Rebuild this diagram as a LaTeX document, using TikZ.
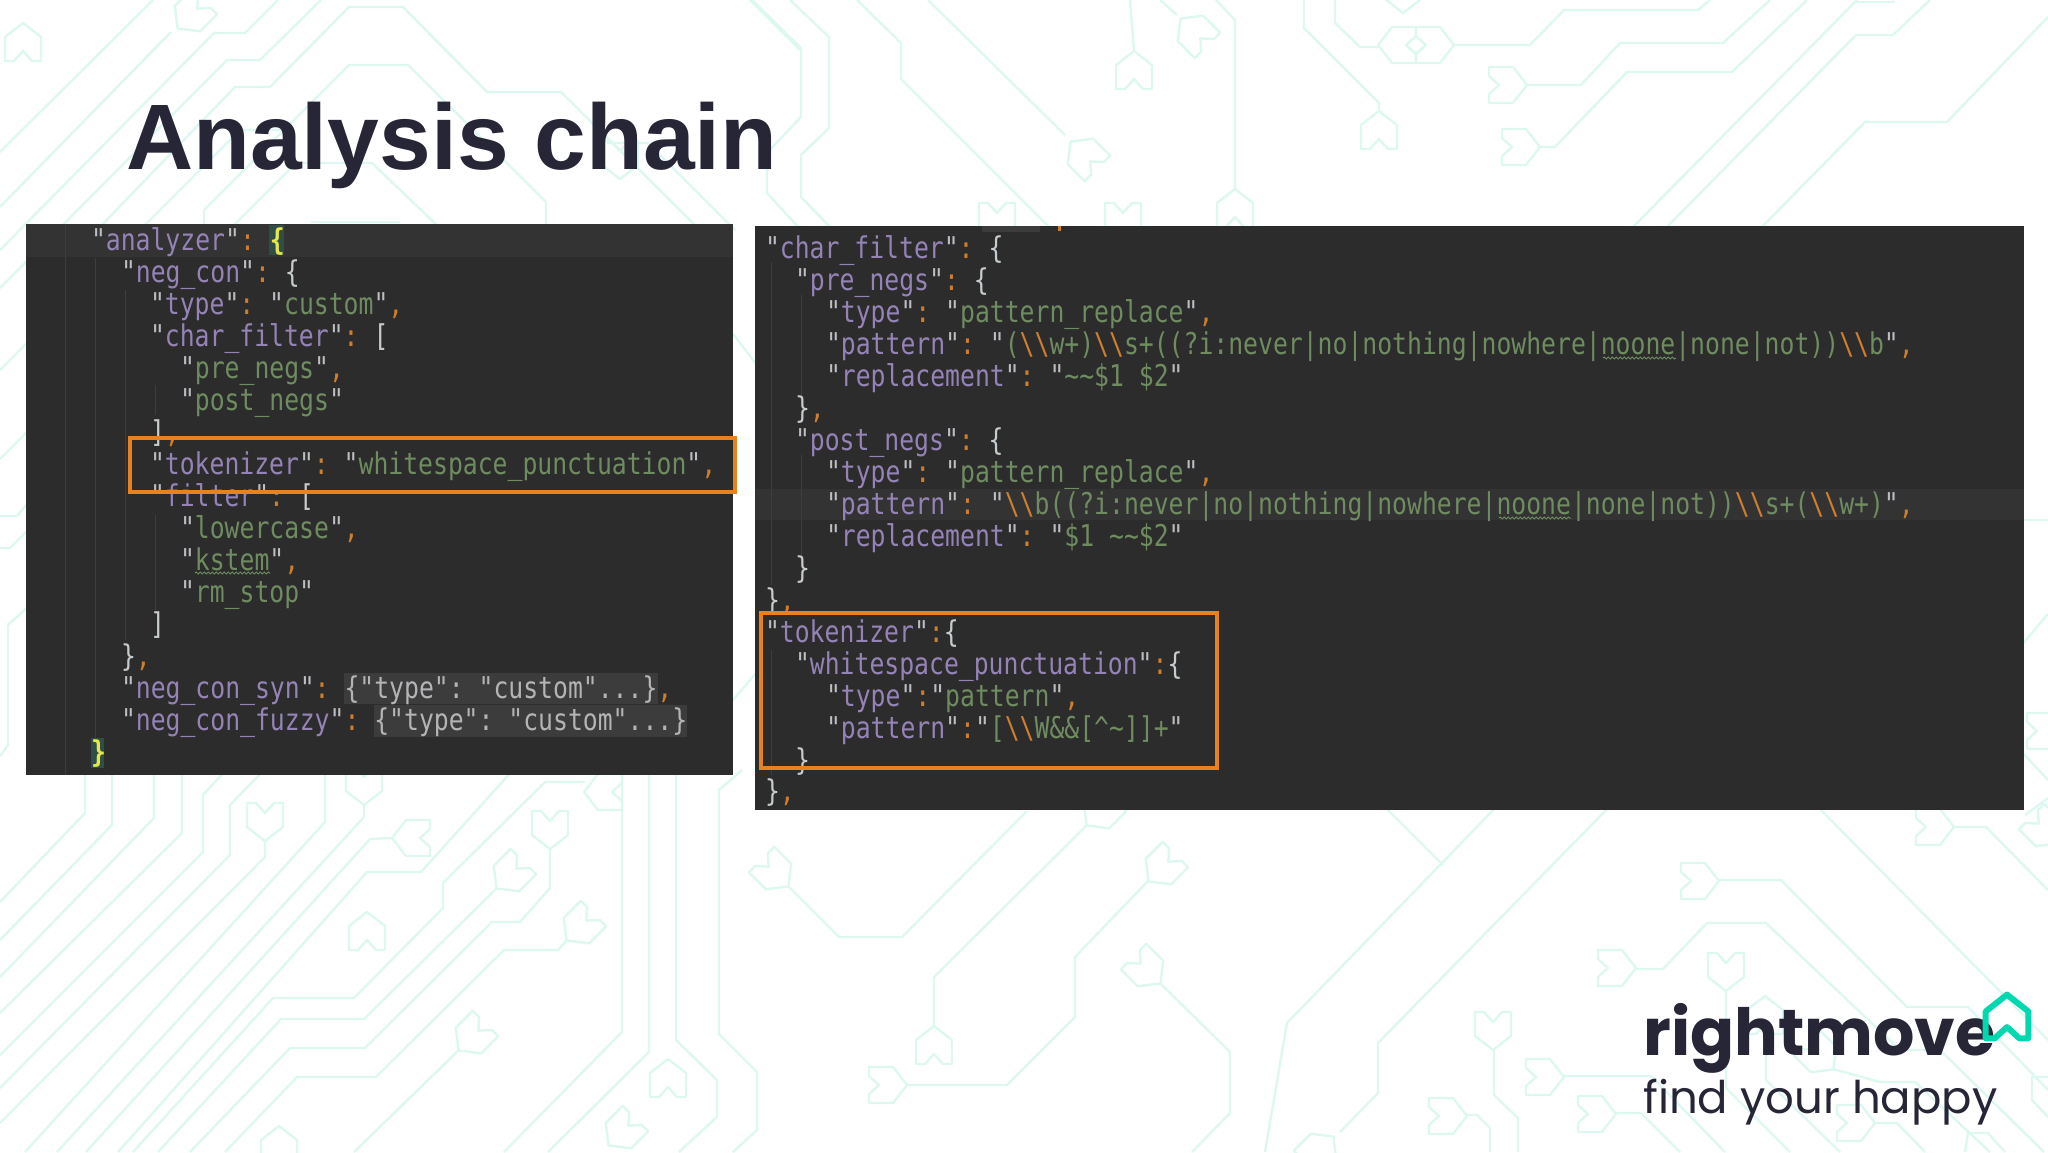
\documentclass[tikz,border=0pt]{standalone}
\usepackage{fontspec}
\usetikzlibrary{decorations.pathmorphing}
\setmainfont{Liberation Sans}
\newfontfamily\codefont[FakeStretch=0.825]{DejaVu Sans Mono}
\newfontfamily\logofont{Poppins}
\definecolor{mint}{HTML}{DDF8F1}
\definecolor{ink}{HTML}{262637}
\definecolor{panel}{HTML}{2C2C2D}
\definecolor{curline}{HTML}{333334}
\definecolor{foldbg}{HTML}{3C3C3D}
\definecolor{guide}{HTML}{3D3D3E}
\definecolor{keyc}{HTML}{9583B6}
\definecolor{strc}{HTML}{6F8B60}
\definecolor{orc}{HTML}{CF7F2C}
\definecolor{quo}{HTML}{BDBDC4}
\definecolor{plain}{HTML}{C6CBCE}
\definecolor{foldc}{HTML}{B4B4B6}
\definecolor{yel}{HTML}{E6E84A}
\definecolor{matchbg}{HTML}{2F4E48}
\definecolor{frame}{HTML}{E8821E}
\definecolor{logog}{HTML}{00D9B0}
\newcommand{\kK}[1]{{\color{quo}"}{\color{keyc}#1}{\color{quo}"}}
\newcommand{\kV}[1]{{\color{quo}"}{\color{strc}#1}{\color{quo}"}}
\newcommand{\kS}[1]{{\color{strc}#1}}
\newcommand{\kQ}{{\color{quo}"}}
\newcommand{\kO}[1]{{\color{orc}#1}}
\newcommand{\kW}[1]{{\color{plain}#1}}
\newcommand{\kF}[1]{{\color{foldc}#1}}
\newcommand{\kY}[1]{{\color{yel}\bfseries #1}}
\newcommand{\kB}{{\color{orc}\textbackslash\textbackslash}}
\newcommand{\kT}{\textasciitilde\textasciitilde}
\newcommand{\hs}[3]{\draw[icn,shift={(#1,#2)},rotate=#3] (0,-19)--(18,-5)--(18,19)--(9,19)--(0,9)--(-9,19)--(-18,19)--(-18,-5)--cycle;}
\tikzset{
  tr/.style={draw=mint,line width=2.4pt,line join=round},
  icn/.style={draw=mint,line width=2.4pt,line join=round},
  code/.style={inner sep=0pt,outer sep=0pt,anchor=base west,font=\codefont\fontsize{30}{32}\selectfont\frenchspacing},
  guideline/.style={draw=guide,line width=1pt},
  squig/.style={draw=strc,line width=1pt,decorate,decoration={snake,amplitude=1pt,segment length=4pt}},
  redbox/.style={draw=frame,line width=4pt}
}
\begin{document}
\begin{tikzpicture}[x=1pt,y=-1pt]
\useasboundingbox (0,0) rectangle (2048,1152);
\fill[white] (0,0) rectangle (2048,1152);
% ---- background traces: top left
\draw[tr] (153,0)--(0,152);
\draw[tr] (171,32)--(0,207);
\draw[tr] (278,0)--(245,33)--(214,33)--(0,250);
\draw[tr] (321,0)--(260,60)--(227,60)--(0,288);
\draw[tr] (97,230)--(235,87)--(270,87)--(349,7)--(403,7)--(487,92)--(561,92)--(700,230);
\draw[tr] (204,230)--(204,210)--(349,65)--(408,65)--(546,202)--(546,230);
\draw[tr] (0,370)--(240,130)--(291,130);
\draw[tr] (0,459)--(296,163)--(372,163)--(442,230);
\draw[tr] (311,222)--(400,222);
\draw[tr] (607,143)--(648,143)--(735,230);
\draw[tr] (750,0)--(800,50);
\hs{23}{42}{0}
\hs{191}{15}{135}
\hs{620}{160}{180}
% ---- left edge
\draw[tr] (0,516)--(17,516)--(30,500);
\draw[tr] (0,548)--(10,548)--(30,528);
\draw[tr] (30,605)--(8,625)--(8,745)--(0,756);
\draw[tr] (733,334)--(757,365);
\draw[tr] (733,700)--(757,672);
% ---- top middle
\draw[tr] (752,0)--(801,48)--(801,117)--(767,153)--(767,193)--(801,230);
\draw[tr] (790,0)--(829,37)--(829,128)--(801,155)--(801,197)--(833,230);
\draw[tr] (857,0)--(901,43)--(901,79)--(1052,230);
\draw[tr] (928,0)--(1065,135);
\hs{1084}{155}{45}
\draw[tr] (1130,0)--(1134,50);
\hs{1134}{70}{0}
\draw[tr] (1160,0)--(1177,15);
\hs{1194}{32}{45}
\draw[tr] (1216,0)--(1235,20)--(1235,188);
\hs{1235}{208}{0}
\hs{997}{222}{180}
\hs{1123}{222}{180}
\draw[tr] (1304,0)--(1304,28)--(1379,103)--(1379,110);
\hs{1379}{130}{0}
\draw[tr] (1335,0)--(1335,23)--(1360,47)--(1379,47);
\hs{1397}{45}{90}
\hs{1403}{-6}{180}
\hs{1435}{45}{-90}
\draw[tr] (1453,45)--(1530,45)--(1564,10)--(1698,10)--(1710,0);
\hs{1508}{85}{-90}
\draw[tr] (1526,85)--(1581,85)--(1620,43)--(1723,43)--(1770,0);
\hs{1521}{147}{-90}
\draw[tr] (1539,147)--(1555,147)--(1627,72)--(1732,72)--(1807,0);
\draw[tr] (1630,230)--(1857,0);
\draw[tr] (1854,2)--(1895,2);
\draw[tr] (1664,230)--(1856,35)--(1893,35)--(1930,0);
\draw[tr] (1759,230)--(1865,122)--(1947,122)--(2048,17);
% ---- right edge
\draw[tr] (2020,520)--(2048,520);
\draw[tr] (2020,647)--(2048,614);
\hs{2046}{731}{-90}
\draw[tr] (2020,750)--(2048,780);
\draw[tr] (2025,815)--(2048,798);
% ---- bottom left bundle
\draw[tr] (85,770)--(85,813)--(0,902);
\draw[tr] (112,770)--(112,825)--(0,940);
\draw[tr] (154,770)--(154,818)--(0,977);
\draw[tr] (182,770)--(182,833)--(0,1013);
\draw[tr] (226,770)--(203,795)--(203,852)--(0,1055);
\draw[tr] (264,770)--(230,805)--(230,855)--(0,1088);
\hs{265}{822}{180}
\draw[tr] (265,841)--(265,857)--(0,1123);
\draw[tr] (325,770)--(325,822)--(25,1152);
\hs{364}{786}{180}
\draw[tr] (364,805)--(364,817)--(57,1152);
\hs{411}{838}{90}
\draw[tr] (393,838)--(370,839)--(86,1152);
\draw[tr] (513,770)--(421,872)--(367,872)--(118,1152);
\hs{603}{792}{90}
\draw[tr] (585,782)--(545,782)--(443,883)--(443,908)--(354,998)--(273,998)--(133,1152);
\hs{510}{875}{135}
\draw[tr] (497,888)--(364,1019)--(281,1019)--(158,1152);
\hs{550}{830}{180}
\draw[tr] (550,849)--(550,888)--(520,922)--(492,922)--(365,1048)--(290,1048)--(190,1152);
\hs{580}{927}{135}
\draw[tr] (567,940)--(558,950)--(504,950)--(376,1077)--(297,1077)--(225,1152);
\hs{367}{931}{0}
\hs{472}{1037}{135}
\draw[tr] (459,1050)--(354,1152);
\hs{279}{1145}{0}
% ---- bottom middle
\draw[tr] (622,770)--(622,1032)--(504,1152);
\draw[tr] (649,770)--(649,1052)--(548,1152);
\draw[tr] (676,770)--(676,1040)--(717,1080)--(717,1117)--(679,1152);
\draw[tr] (742,770)--(719,790)--(719,1034)--(757,1072)--(757,1130)--(733,1152);
\hs{668}{1078}{0}
\hs{622}{1132}{135}
\hs{775}{873}{-135}
\draw[tr] (788,886)--(839,937)--(902,937)--(1027,811);
\hs{1100}{812}{135}
\draw[tr] (1087,825)--(934,977)--(934,1025);
\hs{934}{1045}{0}
\hs{888}{1085}{-90}
\draw[tr] (906,1085)--(1007,1085)--(1075,1017)--(1075,957)--(1149,880);
\hs{1162}{868}{135}
\hs{1147}{970}{-135}
\draw[tr] (1160,983)--(1230,1052)--(1230,1113)--(1192,1152);
\draw[tr] (1265,1152)--(1287,1023)--(1498,805);
\draw[tr] (1383,805)--(1443,865);
\draw[tr] (1611,805)--(1378,1043)--(1378,1093)--(1340,1132);
\hs{1320}{1150}{-45}
\hs{1493}{1031}{180}
\draw[tr] (1494,1050)--(1494,1095)--(1518,1118)--(1518,1152);
\hs{1448}{1116}{-90}
\draw[tr] (1466,1115)--(1477,1115)--(1490,1128)--(1490,1152);
% ---- bottom right
\hs{1700}{881}{-90}
\draw[tr] (1718,880)--(1781,880)--(1907,1007)--(1968,1007)--(2048,1090);
\hs{1617}{968}{-90}
\draw[tr] (1635,969)--(1663,969)--(1707,923)--(1766,923)--(1900,1050)--(1940,1050)--(2044,1152);
\draw[tr] (1816,805)--(2048,1040);
\hs{1726}{972}{180}
\draw[tr] (1726,991)--(1726,1088)--(1790,1152);
\hs{1765}{1015}{0}
\draw[tr] (1766,1034)--(1766,1080)--(1840,1152);
\hs{1820}{1056}{-135}
\draw[tr] (1833,1069)--(1880,1082)--(1915,1082)--(1990,1152);
\hs{1545}{1077}{-90}
\draw[tr] (1563,1076)--(1651,1076)--(1725,1152);
\hs{1597}{1114}{-90}
\draw[tr] (1615,1113)--(1641,1113)--(1680,1152);
\hs{1856}{1123}{-90}
\draw[tr] (1874,1123)--(1897,1123)--(1925,1152);
\hs{1935}{827}{-90}
\draw[tr] (1953,827)--(1986,827)--(2048,890);
\hs{2045}{830}{-135}
\draw[tr] (1965,1152)--(1968,1133)--(1988,1133)--(2005,1152);
\draw[tr] (2048,1077)--(2032,1077)--(2032,1100)--(2048,1117);
% ---- title
\node[inner sep=0pt,anchor=base west,text=ink,font=\bfseries\fontsize{93}{100}\selectfont] (title) at (126,169) {Analysis chain};
% ---- left panel
\fill[panel] (26,224) rectangle (733,775);
\fill[curline] (26,224) rectangle (733,257);
\fill[foldbg] (344,673) rectangle (658,704);
\fill[foldbg] (374,705) rectangle (687,737);
\fill[matchbg] (269,225) rectangle (284,255);
\fill[matchbg] (91,738) rectangle (104,768);
\draw[guideline] (65,224)--(65,775);
\draw[guideline] (95,258)--(95,740);
\draw[guideline] (125,290)--(125,640);
\draw[guideline] (155,385)--(155,415);
\draw[guideline] (155,515)--(155,610);
\node[code] (a1) at (91,250) {\kK{analyzer}\kO{:} \kY{\{}};
\node[code] (a2) at (121,282) {\kK{neg\_con}\kO{:} \kW{\{}};
\node[code] (a3) at (150,314) {\kK{type}\kO{:} \kV{custom}\kO{,}};
\node[code] (a4) at (150,346) {\kK{char\_filter}\kO{:} \kW{[}};
\node[code] (a5) at (180,378) {\kV{pre\_negs}\kO{,}};
\node[code] (a6) at (180,410) {\kV{post\_negs}};
\node[code] (a7) at (150,442) {\kW{]}\kO{,}};
\node[code] (a8) at (150,474) {\kK{tokenizer}\kO{:} \kV{whitespace\_punctuation}\kO{,}};
\node[code] (a9) at (150,506) {\kK{filter}\kO{:} \kW{[}};
\node[code] (a10) at (180,538) {\kV{lowercase}\kO{,}};
\node[code] (a11) at (180,570) {\kV{kstem}\kO{,}};
\node[code] (a12) at (180,602) {\kV{rm\_stop}};
\node[code] (a13) at (150,634) {\kW{]}};
\node[code] (a14) at (121,666) {\kW{\}}\kO{,}};
\node[code] (a15) at (121,698) {\kK{neg\_con\_syn}\kO{:} \kF{\{"type": "custom"...\}}\kO{,}};
\node[code] (a16) at (121,730) {\kK{neg\_con\_fuzzy}\kO{:} \kF{\{"type": "custom"...\}}};
\node[code] (a17) at (91,762) {\kY{\}}};
\draw[squig] (195,573)--(270,573);
% ---- right panel
\fill[panel] (755,226) rectangle (2024,810);
\fill[curline] (755,489) rectangle (2024,520);
\fill[foldbg] (982,226) rectangle (1040,232);
\fill[orc] (1058,226) rectangle (1061,231);
\draw[guideline] (771,262)--(771,585);
\draw[guideline] (801,295)--(801,395);
\draw[guideline] (801,455)--(801,555);
\draw[guideline] (771,650)--(771,775);
\node[code] (b1) at (765,258) {\kK{char\_filter}\kO{:} \kW{\{}};
\node[code] (b2) at (795,290) {\kK{pre\_negs}\kO{:} \kW{\{}};
\node[code] (b3) at (826,322) {\kK{type}\kO{:} \kV{pattern\_replace}\kO{,}};
\node[code] (b4) at (826,354) {\kK{pattern}\kO{:} \kQ\kS{(}\kB\kS{w+)}\kB\kS{s+((?i:never|no|nothing|nowhere|noone|none|not))}\kB\kS{b}\kQ\kO{,}};
\node[code] (b5) at (826,386) {\kK{replacement}\kO{:} \kV{\kT\$1 \$2}};
\node[code] (b6) at (795,418) {\kW{\}}\kO{,}};
\node[code] (b7) at (795,450) {\kK{post\_negs}\kO{:} \kW{\{}};
\node[code] (b8) at (826,482) {\kK{type}\kO{:} \kV{pattern\_replace}\kO{,}};
\node[code] (b9) at (826,514) {\kK{pattern}\kO{:} \kQ\kB\kS{b((?i:never|no|nothing|nowhere|noone|none|not))}\kB\kS{s+(}\kB\kS{w+)}\kQ\kO{,}};
\node[code] (b10) at (826,546) {\kK{replacement}\kO{:} \kV{\$1 \kT\$2}};
\node[code] (b11) at (795,578) {\kW{\}}};
\node[code] (b12) at (765,610) {\kW{\}}\kO{,}};
\node[code] (b13) at (765,642) {\kK{tokenizer}\kO{:}\kW{\{}};
\node[code] (b14) at (795,674) {\kK{whitespace\_punctuation}\kO{:}\kW{\{}};
\node[code] (b15) at (826,706) {\kK{type}\kO{:}\kV{pattern}\kO{,}};
\node[code] (b16) at (826,738) {\kK{pattern}\kO{:}\kQ\kS{[}\kB\kS{W\&\&[\textasciicircum\textasciitilde]]+}\kQ};
\node[code] (b17) at (795,770) {\kW{\}}};
\node[code] (b18) at (765,801) {\kW{\}}\kO{,}};
\draw[squig] (1603,358)--(1676,358);
\draw[squig] (1499,518)--(1571,518);
% ---- orange frames
\draw[redbox] (130,438) rectangle (735,492);
\draw[redbox] (761,613) rectangle (1217,768);
% ---- logo
\node[inner sep=0pt,anchor=base west,text=ink,font=\logofont\bfseries\fontsize{65}{70}\selectfont] (brand) at (1643,1055) {rightmove};
\node[inner sep=0pt,anchor=base west,text=ink,font=\logofont\fontsize{45}{50}\selectfont] (tagline) at (1643,1113) {find your happy};
\draw[draw=logog,line width=6pt,line join=round,shift={(2007,1017)},scale=1.12] (0,-20)--(19,-5)--(19,19)--(11,19)--(0,9)--(-11,19)--(-19,19)--(-19,-5)--cycle;
\end{tikzpicture}
\end{document}
